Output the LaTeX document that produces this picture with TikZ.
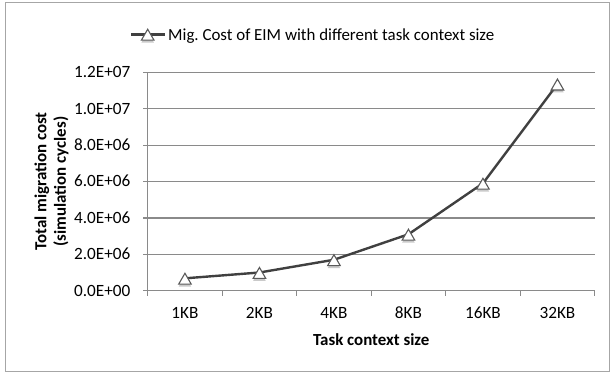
\documentclass[tikz,border=0pt]{standalone}
\usepackage{fontspec}
\setmainfont{Carlito}
\frenchspacing
\usetikzlibrary{shapes.geometric,shadows}
\definecolor{gridgray}{HTML}{8A8A8A}
\definecolor{framegray}{HTML}{A6A6A6}
\definecolor{seriesgray}{HTML}{404040}
\definecolor{markgray}{HTML}{5A5A5A}
\begin{document}
\begin{tikzpicture}[x=1pt,y=-1pt,
  gridline/.style={gridgray,line width=1.2pt},
  series/.style={seriesgray,line width=2.4pt,line join=round},
  marker/.style={regular polygon,regular polygon sides=3,minimum size=14.5pt,
    inner sep=0pt,draw=markgray,line width=1.1pt,fill=white,
    drop shadow={shadow xshift=0pt,shadow yshift=-2.5pt,opacity=0.35,fill=black!60}},
  ticklabel/.style={font=\fontsize{17.2}{19}\selectfont,inner sep=0pt,text=black},
  legendlabel/.style={font=\fontsize{16.9}{19}\selectfont,inner sep=0pt,text=black},
  axistitle/.style={font=\fontsize{16.9}{19.5}\selectfont\bfseries,inner sep=0pt,text=black}]
  \useasboundingbox (0,0) rectangle (611,373);
  % chart frame
  \draw[framegray,line width=1.2pt] (5.5,2.8) rectangle (609.6,371.6);

  % value gridlines, with their labels
  \foreach \v/\lab in {2/2.0E+06,4/4.0E+06,6/6.0E+06,8/8.0E+06,10/1.0E+07,12/1.2E+07}{
    \draw[gridline] (143.3,290.7-18.2*\v) -- (594.7,290.7-18.2*\v);
    \node[ticklabel,anchor=base east] at (130.5,296.0-18.2*\v) {\lab};
  }
  \node[ticklabel,anchor=base east] (y0) at (130.5,296.0) {0.0E+00};

  % axes and tick marks
  \coordinate (o) at (147.7,290.7);
  \coordinate (xe) at (594.7,290.7);
  \draw[gridline] (143.3,290.7) -- (xe);
  \draw[gridline] (o) -- (147.7,72.3);
  \foreach \i in {0,...,6}{
    \draw[gridline] (147.7+74.5*\i,290.7) -- (147.7+74.5*\i,295.7);
  }

  % category labels
  \foreach \c [count=\i] in {1KB,2KB,4KB,8KB,16KB,32KB}{
    \node[ticklabel,anchor=base] (c\i) at (110.45+74.5*\i,318.5) {\c};
  }

  % axis titles
  \node[axistitle,anchor=base] (xt) at (371.2,345) {Task context size};
  \node[axistitle,rotate=90,align=center] (yt) at (51.5,181.5)
    {Total migration cost\\(simulation cycles)};

  % data series (millions of cycles)
  \foreach \v [count=\i] in {0.68,1.0,1.7,3.1,5.9,11.35}{
    \coordinate (p\i) at (110.45+74.5*\i,290.7-18.2*\v);
  }
  \draw[series] (p1) -- (p2) -- (p3) -- (p4) -- (p5) -- (p6);
  \foreach \i in {1,...,6}{
    \node[marker,yshift=-2.2pt] (m\i) at (p\i) {};
  }

  % legend
  \coordinate (la) at (131,34.3);
  \coordinate (lb) at (164.5,34.3);
  \draw[series] (la) -- (lb);
  \node[marker,yshift=-2.2pt] (lm) at (147.7,34.3) {};
  \node[legendlabel,anchor=base west] (lt) at (168,40.2)
    {Mig. Cost of EIM with different task context size};
\end{tikzpicture}
\end{document}
